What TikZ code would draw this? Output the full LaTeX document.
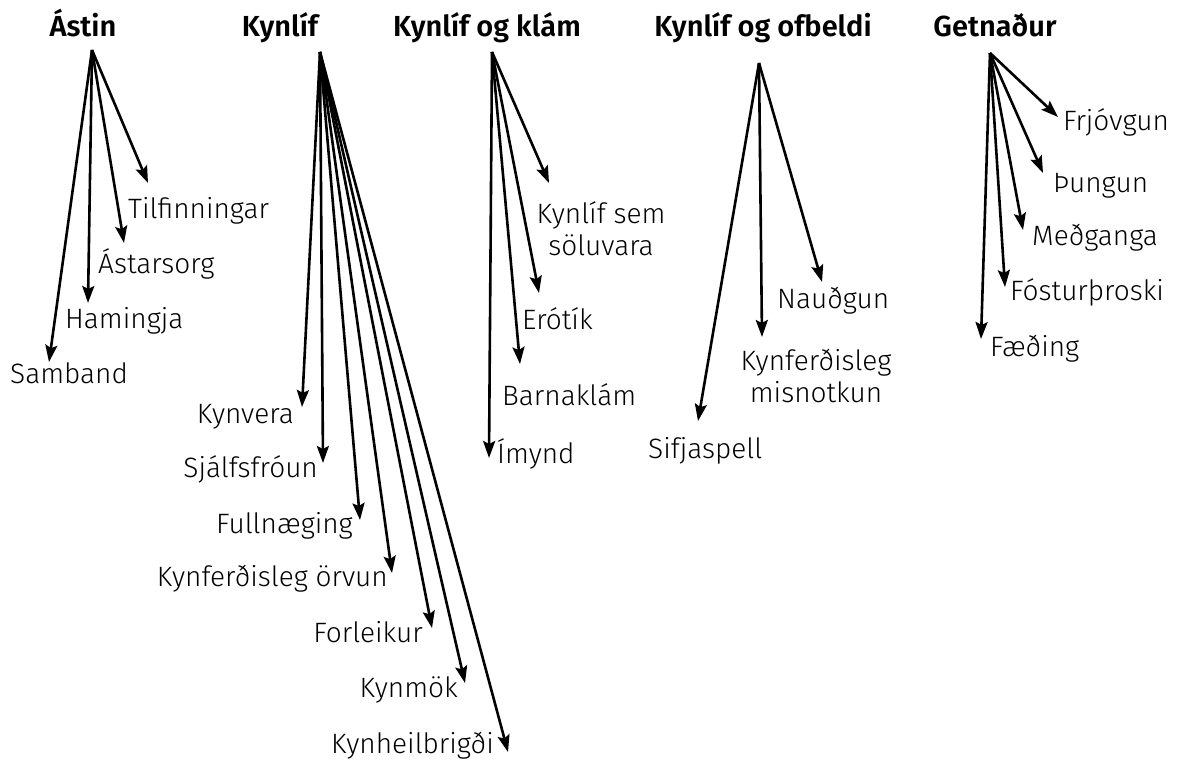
\documentclass[tikz,border=0pt]{standalone}
\usepackage{fontspec}
\setmainfont{Fira Sans}[UprightFont={* Light}, BoldFont={* SemiBold}]
\usetikzlibrary{arrows.meta}

\begin{document}
\begin{tikzpicture}[x=1pt, y=-1pt, >={Stealth[length=17pt, width=12pt, inset=3pt]},
  head/.style={font=\fontsize{29}{34}\selectfont\bfseries, inner sep=0pt},
  lbl/.style={font=\fontsize{28}{32}\selectfont, inner sep=0pt, align=center},
  arr/.style={->, line width=2.6pt}]

\useasboundingbox (0,0) rectangle (1191,760);

% headings
\node[head, anchor=base] (astin) at (83,37) {Ástin};
\node[head, anchor=base] (kynlif) at (280,37) {Kynlíf};
\node[head, anchor=base] (klam) at (487,37) {Kynlíf og klám};
\node[head, anchor=base] (ofbeldi) at (763,37) {Kynlíf og ofbeldi};
\node[head, anchor=base] (getnadur) at (995,37) {Getnaður};

% where the arrows start, under each heading
\coordinate (astin-o) at (92,50);
\coordinate (kynlif-o) at (320,52);
\coordinate (klam-o) at (492,52);
\coordinate (ofbeldi-o) at (759,63);
\coordinate (getnadur-o) at (990,53);

% Ástin
\node[lbl, anchor=base west] (tilfinningar) at (128,218) {Tilfinningar};
\node[lbl, anchor=base west] (astarsorg) at (98,273) {Ástarsorg};
\node[lbl, anchor=base west] (hamingja) at (65,328) {Hamingja};
\node[lbl, anchor=base west] (samband) at (10,383) {Samband};
\coordinate (tilfinningar-t) at (148,183);
\coordinate (astarsorg-t) at (124,243);
\coordinate (hamingja-t) at (88,303);
\coordinate (samband-t) at (49,362);
\draw[arr] (astin-o) -- (tilfinningar-t);
\draw[arr] (astin-o) -- (astarsorg-t);
\draw[arr] (astin-o) -- (hamingja-t);
\draw[arr] (astin-o) -- (samband-t);

% Kynlíf
\node[lbl, anchor=base east] (kynvera) at (294,423) {Kynvera};
\node[lbl, anchor=base east] (sjalfsfroun) at (318,477) {Sjálfsfróun};
\node[lbl, anchor=base east] (fullnaeging) at (353,533) {Fullnæging};
\node[lbl, anchor=base east] (orvun) at (388,586) {Kynferðisleg örvun};
\node[lbl, anchor=base east] (forleikur) at (423,642) {Forleikur};
\node[lbl, anchor=base east] (kynmok) at (458,697) {Kynmök};
\node[lbl, anchor=base east] (kynheilbrigdi) at (494,753) {Kynheilbrigði};
\coordinate (kynvera-t) at (302,407);
\coordinate (sjalfsfroun-t) at (323,463);
\coordinate (fullnaeging-t) at (360,520);
\coordinate (orvun-t) at (392,573);
\coordinate (forleikur-t) at (432,628);
\coordinate (kynmok-t) at (465,683);
\coordinate (kynheilbrigdi-t) at (508,752);
\draw[arr] (kynlif-o) -- (kynvera-t);
\draw[arr] (kynlif-o) -- (sjalfsfroun-t);
\draw[arr] (kynlif-o) -- (fullnaeging-t);
\draw[arr] (kynlif-o) -- (orvun-t);
\draw[arr] (kynlif-o) -- (forleikur-t);
\draw[arr] (kynlif-o) -- (kynmok-t);
\draw[arr] (kynlif-o) -- (kynheilbrigdi-t);

% Kynlíf og klám
\node[lbl, anchor=center] (soluvara) at (601,229) {Kynlíf sem\\söluvara};
\node[lbl, anchor=base west] (erotik) at (522,329) {Erótík};
\node[lbl, anchor=base west] (barnaklam) at (502,405) {Barnaklám};
\node[lbl, anchor=base west] (imynd) at (497,463) {Ímynd};
\coordinate (soluvara-t) at (549,183);
\coordinate (erotik-t) at (539,293);
\coordinate (barnaklam-t) at (520,364);
\coordinate (imynd-t) at (489,458);
\draw[arr] (klam-o) -- (soluvara-t);
\draw[arr] (klam-o) -- (erotik-t);
\draw[arr] (klam-o) -- (barnaklam-t);
\draw[arr] (klam-o) -- (imynd-t);

% Kynlíf og ofbeldi
\node[lbl, anchor=base west] (naudgun) at (777,308) {Nauðgun};
\node[lbl, anchor=center] (misnotkun) at (816,376) {Kynferðisleg\\misnotkun};
\node[lbl, anchor=base west] (sifjaspell) at (648,458) {Sifjaspell};
\coordinate (naudgun-t) at (822,282);
\coordinate (misnotkun-t) at (762,337);
\coordinate (sifjaspell-t) at (698,421);
\draw[arr] (ofbeldi-o) -- (naudgun-t);
\draw[arr] (ofbeldi-o) -- (misnotkun-t);
\draw[arr] (ofbeldi-o) -- (sifjaspell-t);

% Getnaður
\node[lbl, anchor=base west] (frjovgun) at (1063,130) {Frjóvgun};
\node[lbl, anchor=base west] (thungun) at (1053,192) {Þungun};
\node[lbl, anchor=base west] (medganga) at (1032,245) {Meðganga};
\node[lbl, anchor=base west] (fosturthroski) at (1010,300) {Fósturþroski};
\node[lbl, anchor=base west] (faeding) at (990,356) {Fæðing};
\coordinate (frjovgun-t) at (1058,117);
\coordinate (thungun-t) at (1043,173);
\coordinate (medganga-t) at (1023,230);
\coordinate (fosturthroski-t) at (1005,287);
\coordinate (faeding-t) at (981,339);
\draw[arr] (getnadur-o) -- (frjovgun-t);
\draw[arr] (getnadur-o) -- (thungun-t);
\draw[arr] (getnadur-o) -- (medganga-t);
\draw[arr] (getnadur-o) -- (fosturthroski-t);
\draw[arr] (getnadur-o) -- (faeding-t);

\end{tikzpicture}
\end{document}
